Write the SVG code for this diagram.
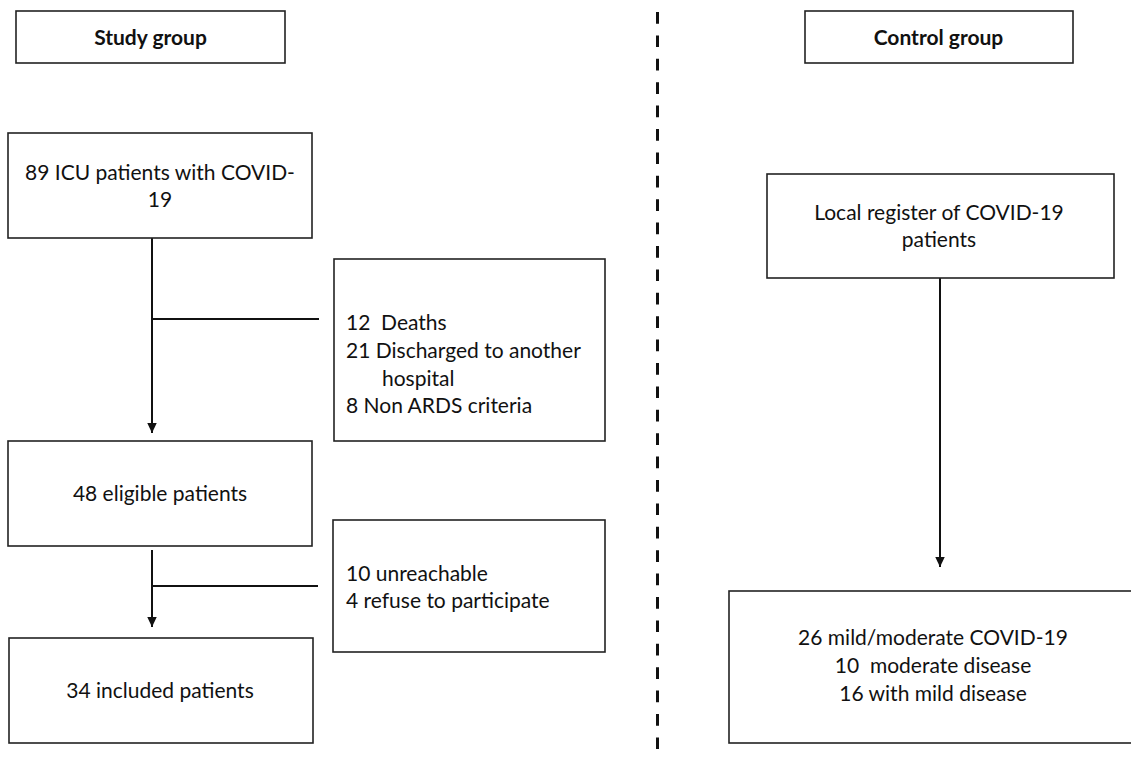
<svg xmlns="http://www.w3.org/2000/svg" width="1131" height="759" viewBox="0 0 1131 759">
<style>
.box{fill:#fff;stroke:#222;stroke-width:1.6}
.t{font-family:Lato,"Open Sans","Liberation Sans",sans-serif;font-size:21px;fill:#111}
.b{font-weight:bold}
.c{text-anchor:middle}
.ln{fill:none;stroke:#111;stroke-width:2}
.dash{fill:none;stroke:#111;stroke-width:3;stroke-dasharray:11.7 11.7}
</style>
<defs>
<marker id="arr" markerUnits="userSpaceOnUse" markerWidth="10" markerHeight="10" refX="10" refY="4.75" orient="auto">
<path d="M0,0 L10,4.75 L0,9.5 z" fill="#111"/>
</marker>
</defs>
<rect width="1131" height="759" fill="#fff"/>
<g id="connectors">
<line class="dash" x1="657.5" y1="12" x2="657.5" y2="759"/>
<line class="ln" x1="152" y1="238" x2="152" y2="433" marker-end="url(#arr)"/>
<line class="ln" x1="152" y1="319" x2="319" y2="319"/>
<line class="ln" x1="152" y1="550" x2="152" y2="627" marker-end="url(#arr)"/>
<line class="ln" x1="152" y1="586" x2="318" y2="586"/>
<line class="ln" x1="940" y1="278" x2="940" y2="567" marker-end="url(#arr)"/>
</g>
<g id="study-group">
<rect class="box" x="16" y="11" width="269" height="52"/>
<text class="t b c" x="150.5" y="45">Study group</text>
</g>
<g id="icu-patients">
<rect class="box" x="8" y="133" width="304" height="105"/>
<text class="t c" x="160" y="180">89 ICU patients with COVID-</text>
<text class="t c" x="160" y="207">19</text>
</g>
<g id="exclusions-1">
<rect class="box" x="334" y="259" width="271" height="182"/>
<text class="t" x="346" y="330" xml:space="preserve">12  Deaths</text>
<text class="t" x="346" y="358">21 Discharged to another</text>
<text class="t" x="382" y="385.5">hospital</text>
<text class="t" x="346" y="413">8 Non ARDS criteria</text>
</g>
<g id="eligible">
<rect class="box" x="8" y="441" width="304" height="105"/>
<text class="t c" x="160" y="501">48 eligible patients</text>
</g>
<g id="exclusions-2">
<rect class="box" x="333" y="520" width="272" height="132"/>
<text class="t" x="346" y="581">10 unreachable</text>
<text class="t" x="346" y="608">4 refuse to participate</text>
</g>
<g id="included">
<rect class="box" x="9" y="638" width="304" height="105"/>
<text class="t c" x="160" y="698">34 included patients</text>
</g>
<g id="control-group">
<rect class="box" x="805" y="11" width="268" height="52"/>
<text class="t b c" x="938.5" y="45">Control group</text>
</g>
<g id="local-register">
<rect class="box" x="767" y="174" width="347" height="104"/>
<text class="t c" x="939" y="220">Local register of COVID-19</text>
<text class="t c" x="939" y="246.5">patients</text>
</g>
<g id="control-patients">
<rect class="box" x="729" y="591" width="420" height="152"/>
<text class="t c" x="933" y="645">26 mild/moderate COVID-19</text>
<text class="t c" x="933" y="673" xml:space="preserve">10  moderate disease</text>
<text class="t c" x="933" y="701">16 with mild disease</text>
</g>
</svg>
